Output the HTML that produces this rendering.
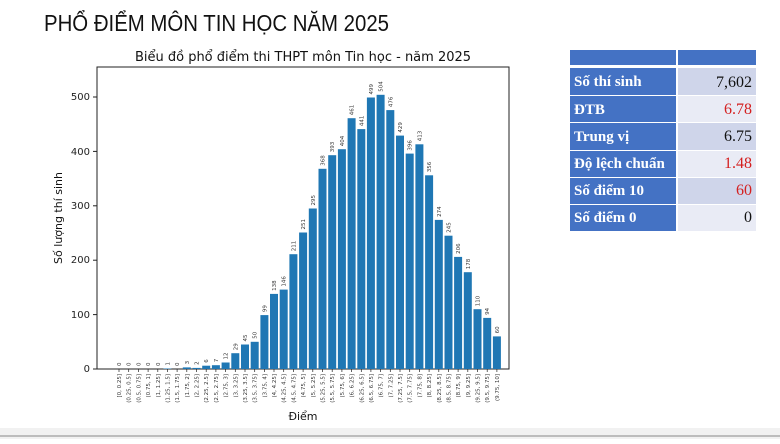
<!DOCTYPE html>
<html><head><meta charset="utf-8"><style>
body{margin:0;width:780px;height:439px;overflow:hidden;background:#fff;font-family:"Liberation Sans","DejaVu Sans",sans-serif;}
</style></head><body>
<svg width="780" height="439" xmlns="http://www.w3.org/2000/svg" font-family="DejaVu Sans, Liberation Sans, sans-serif">
<rect x="0" y="0" width="780" height="439" fill="#fff"/>
<rect x="0" y="428" width="780" height="11" fill="#f1f1f1"/>
<line x1="0" y1="436" x2="780" y2="436" stroke="#888" stroke-width="1"/>
<text x="44" y="31" font-family="Liberation Sans Narrow, Liberation Sans, sans-serif" font-size="23" fill="#111" textLength="345" lengthAdjust="spacingAndGlyphs">PHỔ ĐIỂM MÔN TIN HỌC NĂM 2025</text>
<text x="303" y="61" font-size="13" text-anchor="middle" fill="#111">Biểu đồ phổ điểm thi THPT môn Tin học - năm 2025</text>
<rect x="97" y="67" width="412" height="302" fill="none" stroke="#222" stroke-width="1"/>
<g font-size="10" fill="#222" text-anchor="end">
<text x="90" y="372">0</text><line x1="93" y1="369" x2="97" y2="369" stroke="#222"/>
<text x="90" y="318">100</text><line x1="93" y1="314.6" x2="97" y2="314.6" stroke="#222"/>
<text x="90" y="263">200</text><line x1="93" y1="260.2" x2="97" y2="260.2" stroke="#222"/>
<text x="90" y="209">300</text><line x1="93" y1="205.8" x2="97" y2="205.8" stroke="#222"/>
<text x="90" y="155">400</text><line x1="93" y1="151.4" x2="97" y2="151.4" stroke="#222"/>
<text x="90" y="100">500</text><line x1="93" y1="97" x2="97" y2="97" stroke="#222"/>
</g>
<text transform="translate(62,218) rotate(-90)" font-size="11" text-anchor="middle" fill="#111">Số lượng thí sinh</text>
<text x="303" y="420" font-size="11" text-anchor="middle" fill="#111">Điểm</text>
<g id="bars"></g>
<g>
<rect x="570" y="50" width="106" height="15" fill="#4472c4"/>
<rect x="678" y="50" width="78" height="15" fill="#4472c4"/>
<rect x="570" y="68" width="106" height="27" fill="#4472c4"/><rect x="678" y="68" width="78" height="27" fill="#cfd5ea"/>
<rect x="570" y="96" width="106" height="26" fill="#4472c4"/><rect x="678" y="96" width="78" height="26" fill="#e9ebf5"/>
<rect x="570" y="123" width="106" height="27" fill="#4472c4"/><rect x="678" y="123" width="78" height="27" fill="#cfd5ea"/>
<rect x="570" y="151" width="106" height="26" fill="#4472c4"/><rect x="678" y="151" width="78" height="26" fill="#e9ebf5"/>
<rect x="570" y="178" width="106" height="26" fill="#4472c4"/><rect x="678" y="178" width="78" height="26" fill="#cfd5ea"/>
<rect x="570" y="205" width="106" height="26" fill="#4472c4"/><rect x="678" y="205" width="78" height="26" fill="#e9ebf5"/>
<g font-family="Liberation Serif, serif" font-size="15" font-weight="bold" fill="#fff">
<text x="574" y="86">Số thí sinh</text><text x="574" y="114">ĐTB</text><text x="574" y="141">Trung vị</text>
<text x="574" y="168">Độ lệch chuẩn</text><text x="574" y="195">Số điểm 10</text><text x="574" y="222">Số điểm 0</text>
</g>
<g font-family="Liberation Serif, serif" font-size="16" text-anchor="end">
<text x="752" y="87" fill="#111">7,602</text><text x="752" y="114" fill="#d42020">6.78</text>
<text x="752" y="141" fill="#111">6.75</text><text x="752" y="168" fill="#d42020">1.48</text>
<text x="752" y="195" fill="#d42020">60</text><text x="752" y="222" fill="#111">0</text>
</g>
</g>
</svg>
<script>
var d=[0,0,0,0,0,1,0,3,2,6,7,12,29,45,50,99,138,146,211,251,295,368,393,404,461,441,499,504,476,429,396,413,356,274,245,206,178,110,94,60];
var L=[];for(var i=0;i<40;i++){var a=i*0.25,b=a+0.25;L.push((i==0?'[':'(')+fmt(a)+', '+fmt(b)+']');}
function fmt(v){return (Math.round(v*100)/100).toString();}
var s='';
for(var i=0;i<40;i++){var cx=119+i*9.69,h=d[i]*0.544,y=369-h;
s+='<rect x="'+(cx-4).toFixed(1)+'" y="'+y.toFixed(1)+'" width="8" height="'+h.toFixed(1)+'" fill="#1f77b4"/>';
s+='<text transform="translate('+(cx+2).toFixed(1)+','+(y-3).toFixed(1)+') rotate(-90)" font-size="5.5" fill="#333">'+d[i]+'</text>';
s+='<line x1="'+cx.toFixed(1)+'" y1="369" x2="'+cx.toFixed(1)+'" y2="372" stroke="#222" stroke-width="0.7"/>';
s+='<text transform="translate('+(cx+2).toFixed(1)+',374) rotate(-90)" font-size="5.5" text-anchor="end" fill="#333">'+L[i]+'</text>';}
document.getElementById('bars').innerHTML=s;
</script>
</body></html>
